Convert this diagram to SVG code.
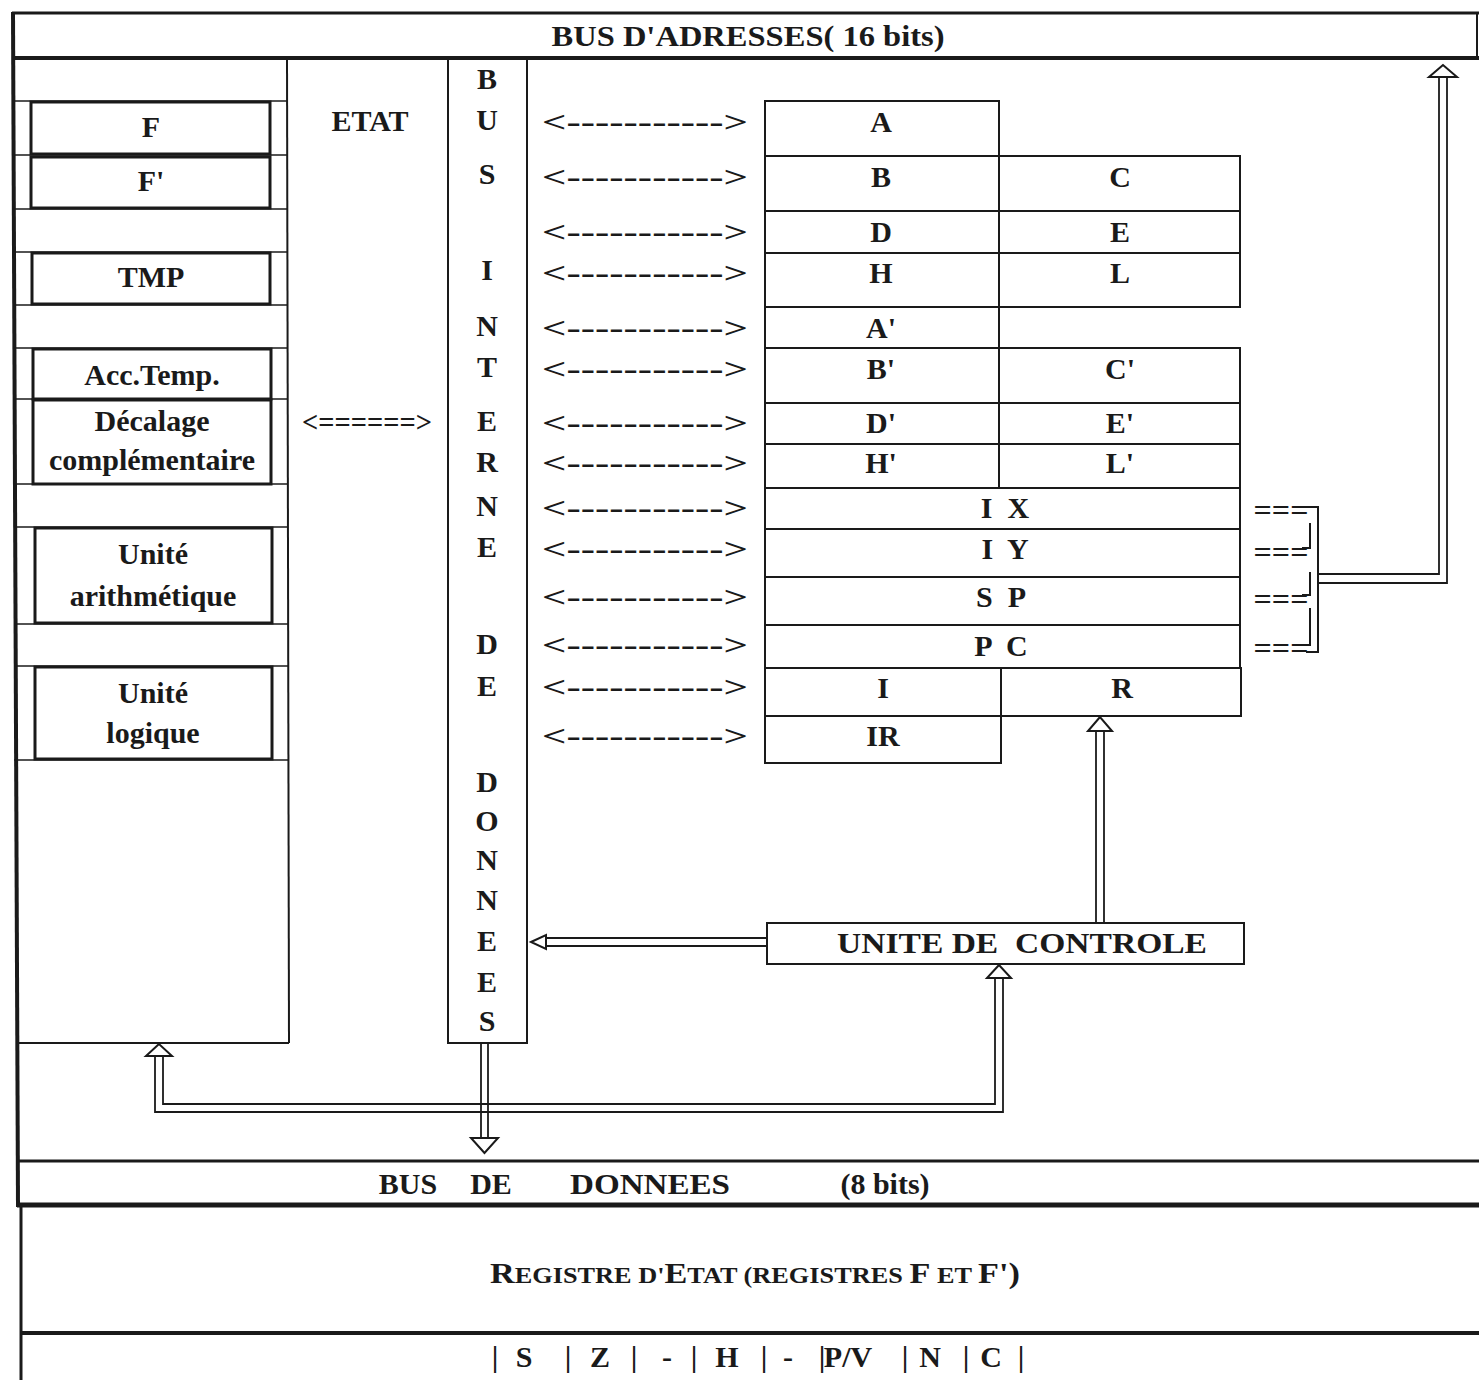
<svg xmlns="http://www.w3.org/2000/svg" width="1479" height="1380" viewBox="0 0 1479 1380">
<style>
  .t{font-family:"Liberation Serif","Times New Roman",serif;font-weight:bold;font-size:30px;fill:#1a1a1a;text-anchor:middle}
  .ln{stroke:#1a1a1a;fill:none}
  .box{stroke:#1a1a1a;stroke-width:2;fill:none}
  .bx3{stroke:#1a1a1a;stroke-width:3;fill:none}
  .head{stroke:#1a1a1a;stroke-width:2;fill:#fff}
  .dbl{stroke:#1a1a1a;stroke-width:1.8;fill:none}
</style>
<rect width="1479" height="1380" fill="#fff"/>

<g id="frame">
  <line class="ln" stroke-width="3" x1="12" y1="13" x2="1479" y2="13"/>
  <line class="ln" stroke-width="2" x1="1477" y1="13" x2="1477" y2="58"/>
  <line class="ln" stroke-width="4" x1="12" y1="58" x2="1479" y2="58"/>
  <line class="ln" stroke-width="4" x1="13" y1="12" x2="18" y2="1207"/>
  <line class="ln" stroke-width="3" x1="17" y1="1161" x2="1479" y2="1161"/>
  <line class="ln" stroke-width="5" x1="17" y1="1205" x2="1479" y2="1205"/>
  <line class="ln" stroke-width="3" x1="21" y1="1207" x2="21" y2="1380"/>
  <line class="ln" stroke-width="4" x1="21" y1="1333" x2="1479" y2="1333"/>
</g>

<g id="bus-adresses">
  <text class="t" x="748" y="46" textLength="393" lengthAdjust="spacingAndGlyphs">BUS D'ADRESSES( 16 bits)</text>
</g>

<g id="left-column">
  <line class="ln" stroke-width="2" x1="287" y1="58" x2="289" y2="1043"/>
  <line class="ln" stroke-width="2" x1="16" y1="1043" x2="289" y2="1043"/>
  <g stroke="#1a1a1a" stroke-width="1.5">
    <line x1="14" y1="101" x2="287" y2="101"/>
    <line x1="14" y1="155" x2="287" y2="155"/>
    <line x1="14" y1="209" x2="287" y2="209"/>
    <line x1="14" y1="252" x2="287" y2="252"/>
    <line x1="14" y1="305" x2="287" y2="305"/>
    <line x1="14" y1="348" x2="287" y2="348"/>
    <line x1="14" y1="399" x2="287" y2="399"/>
    <line x1="14" y1="484" x2="287" y2="484"/>
    <line x1="14" y1="527" x2="288" y2="527"/>
    <line x1="14" y1="624" x2="288" y2="624"/>
    <line x1="14" y1="666" x2="288" y2="666"/>
    <line x1="14" y1="760" x2="288" y2="760"/>
  </g>
</g>

<g id="node-F"><rect class="bx3" x="31" y="102" width="239" height="52"/><text class="t" x="151" y="137">F</text></g>
<g id="node-Fp"><rect class="bx3" x="31" y="157" width="239" height="51"/><text class="t" x="151" y="191">F'</text></g>
<g id="node-TMP"><rect class="bx3" x="32" y="253" width="238" height="51"/><text class="t" x="151" y="287">TMP</text></g>
<g id="node-acc"><rect class="bx3" x="33" y="349" width="238" height="50"/><text class="t" x="152" y="385">Acc.Temp.</text></g>
<g id="node-decalage"><rect class="bx3" x="33" y="400" width="238" height="84"/><text class="t" x="152" y="431">Décalage</text><text class="t" x="152" y="470">complémentaire</text></g>
<g id="node-ua"><rect class="bx3" x="35" y="528" width="237" height="95"/><text class="t" x="153" y="564">Unité</text><text class="t" x="153" y="606">arithmétique</text></g>
<g id="node-ul"><rect class="bx3" x="35" y="667" width="237" height="92"/><text class="t" x="153" y="703">Unité</text><text class="t" x="153" y="743">logique</text></g>

<g id="etat"><text class="t" x="370" y="131">ETAT</text></g>
<g id="alu-link"><text class="t" x="367" y="432" textLength="130" lengthAdjust="spacingAndGlyphs">&lt;======&gt;</text></g>

<g id="bus-interne">
  <rect class="box" x="448" y="58" width="79" height="985"/>
  <g class="t">
    <text x="487" y="89">B</text><text x="487" y="130">U</text><text x="487" y="184">S</text>
    <text x="487" y="280">I</text><text x="487" y="336">N</text><text x="487" y="377">T</text>
    <text x="487" y="431">E</text><text x="487" y="472">R</text><text x="487" y="516">N</text>
    <text x="487" y="557">E</text><text x="487" y="654">D</text><text x="487" y="696">E</text>
    <text x="487" y="792">D</text><text x="487" y="831">O</text><text x="487" y="870">N</text>
    <text x="487" y="910">N</text><text x="487" y="951">E</text><text x="487" y="992">E</text>
    <text x="487" y="1031">S</text>
  </g>
</g>

<g id="connectors">
  <g class="t">
    <text x="645" y="132" textLength="206" lengthAdjust="spacingAndGlyphs">&lt;-----------&gt;</text>
    <text x="645" y="187" textLength="206" lengthAdjust="spacingAndGlyphs">&lt;-----------&gt;</text>
    <text x="645" y="242" textLength="206" lengthAdjust="spacingAndGlyphs">&lt;-----------&gt;</text>
    <text x="645" y="283" textLength="206" lengthAdjust="spacingAndGlyphs">&lt;-----------&gt;</text>
    <text x="645" y="338" textLength="206" lengthAdjust="spacingAndGlyphs">&lt;-----------&gt;</text>
    <text x="645" y="379" textLength="206" lengthAdjust="spacingAndGlyphs">&lt;-----------&gt;</text>
    <text x="645" y="433" textLength="206" lengthAdjust="spacingAndGlyphs">&lt;-----------&gt;</text>
    <text x="645" y="473" textLength="206" lengthAdjust="spacingAndGlyphs">&lt;-----------&gt;</text>
    <text x="645" y="518" textLength="206" lengthAdjust="spacingAndGlyphs">&lt;-----------&gt;</text>
    <text x="645" y="559" textLength="206" lengthAdjust="spacingAndGlyphs">&lt;-----------&gt;</text>
    <text x="645" y="607" textLength="206" lengthAdjust="spacingAndGlyphs">&lt;-----------&gt;</text>
    <text x="645" y="655" textLength="206" lengthAdjust="spacingAndGlyphs">&lt;-----------&gt;</text>
    <text x="645" y="697" textLength="206" lengthAdjust="spacingAndGlyphs">&lt;-----------&gt;</text>
    <text x="645" y="746" textLength="206" lengthAdjust="spacingAndGlyphs">&lt;-----------&gt;</text>
  </g>
  <g class="t">
    <text x="1281" y="520" textLength="55" lengthAdjust="spacingAndGlyphs">===</text>
    <text x="1281" y="562" textLength="55" lengthAdjust="spacingAndGlyphs">===</text>
    <text x="1281" y="609" textLength="55" lengthAdjust="spacingAndGlyphs">===</text>
    <text x="1281" y="658" textLength="55" lengthAdjust="spacingAndGlyphs">===</text>
  </g>
  <path class="ln" stroke-width="2" d="M1306,507 H1318 V652 H1306"/>
  <path class="ln" stroke-width="2" d="M1310,523 V548 H1302"/>
  <path class="ln" stroke-width="2" d="M1310,572 V595 H1302"/>
  <path class="ln" stroke-width="2" d="M1310,608 V645 H1302"/>
  <path class="dbl" d="M1318,574 H1439 V77"/>
  <path class="dbl" d="M1318,583 H1447 V77"/>
  <path class="head" d="M1443,65 L1429,77 L1457,77 Z"/>
  <path class="dbl" d="M1096,923 V731"/>
  <path class="dbl" d="M1104,923 V731"/>
  <path class="head" d="M1100,717 L1088,731 L1112,731 Z"/>
  <path class="dbl" d="M767,938 H546"/>
  <path class="dbl" d="M767,946 H546"/>
  <path class="head" d="M531,942 L546,935 L546,949 Z"/>
  <path class="dbl" d="M481,1043 V1138"/>
  <path class="dbl" d="M488,1043 V1138"/>
  <path class="head" d="M484.5,1153 L471,1138 L498,1138 Z"/>
  <path class="dbl" d="M163,1056 V1104 H995 V978"/>
  <path class="dbl" d="M155,1056 V1112 H1003 V978"/>
  <path class="head" d="M159,1044 L146,1056 L172,1056 Z"/>
  <path class="head" d="M999,965 L987,978 L1011,978 Z"/>
</g>

<g id="registers">
  <line class="ln" stroke-width="2" x1="999" y1="101" x2="999" y2="488"/>
  <g id="reg-A"><rect class="box" x="765" y="101" width="234" height="55"/><text class="t" x="881" y="132">A</text></g>
  <g id="reg-BC"><rect class="box" x="765" y="156" width="475" height="55"/><text class="t" x="881" y="187">B</text><text class="t" x="1120" y="187">C</text></g>
  <g id="reg-DE"><rect class="box" x="765" y="211" width="475" height="42"/><text class="t" x="881" y="242">D</text><text class="t" x="1120" y="242">E</text></g>
  <g id="reg-HL"><rect class="box" x="765" y="253" width="475" height="54"/><text class="t" x="881" y="283">H</text><text class="t" x="1120" y="283">L</text></g>
  <g id="reg-Ap"><rect class="box" x="765" y="307" width="234" height="41"/><text class="t" x="881" y="338">A'</text></g>
  <g id="reg-BCp"><rect class="box" x="765" y="348" width="475" height="55"/><text class="t" x="881" y="379">B'</text><text class="t" x="1120" y="379">C'</text></g>
  <g id="reg-DEp"><rect class="box" x="765" y="403" width="475" height="41"/><text class="t" x="881" y="433">D'</text><text class="t" x="1120" y="433">E'</text></g>
  <g id="reg-HLp"><rect class="box" x="765" y="444" width="475" height="44"/><text class="t" x="881" y="473">H'</text><text class="t" x="1120" y="473">L'</text></g>
  <g id="reg-IX"><rect class="box" x="765" y="488" width="475" height="41"/><text class="t" x="1005" y="518" xml:space="preserve">I  X</text></g>
  <g id="reg-IY"><rect class="box" x="765" y="529" width="475" height="48"/><text class="t" x="1005" y="559" xml:space="preserve">I  Y</text></g>
  <g id="reg-SP"><rect class="box" x="765" y="577" width="475" height="48"/><text class="t" x="1001" y="607" xml:space="preserve">S  P</text></g>
  <g id="reg-PC"><rect class="box" x="765" y="625" width="475" height="43"/><text class="t" x="1001" y="656" xml:space="preserve">P  C</text></g>
  <g id="reg-IR-pair"><rect class="box" x="765" y="668" width="476" height="48"/><line class="ln" stroke-width="2" x1="1001" y1="668" x2="1001" y2="716"/><text class="t" x="883" y="698">I</text><text class="t" x="1122" y="698">R</text></g>
  <g id="reg-IR"><rect class="box" x="765" y="716" width="236" height="47"/><text class="t" x="883" y="746">IR</text></g>
</g>

<g id="control-unit">
  <rect class="box" x="767" y="923" width="477" height="41"/>
  <text class="t" x="1022" y="953" textLength="370" lengthAdjust="spacingAndGlyphs" xml:space="preserve">UNITE DE  CONTROLE</text>
</g>

<g id="bus-donnees">
  <text class="t" x="408" y="1194">BUS</text>
  <text class="t" x="491" y="1194">DE</text>
  <text class="t" x="650" y="1194" textLength="160" lengthAdjust="spacingAndGlyphs">DONNEES</text>
  <text class="t" x="885" y="1194">(8 bits)</text>
</g>

<g id="registre-etat">
  <text class="t" x="755" y="1283" textLength="530" lengthAdjust="spacingAndGlyphs"><tspan>R</tspan><tspan font-size="23">EGISTRE D'</tspan><tspan>E</tspan><tspan font-size="23">TAT (REGISTRES </tspan><tspan>F</tspan><tspan font-size="23"> ET </tspan><tspan>F')</tspan></text>
  <text class="t" y="1367"><tspan x="495">|</tspan><tspan x="524">S</tspan><tspan x="568">|</tspan><tspan x="600">Z</tspan><tspan x="634">|</tspan><tspan x="667">-</tspan><tspan x="694">|</tspan><tspan x="727">H</tspan><tspan x="764">|</tspan><tspan x="788">-</tspan><tspan x="822">|</tspan><tspan x="848">P/V</tspan><tspan x="905">|</tspan><tspan x="930">N</tspan><tspan x="966">|</tspan><tspan x="991">C</tspan><tspan x="1021">|</tspan></text>
</g>
</svg>
